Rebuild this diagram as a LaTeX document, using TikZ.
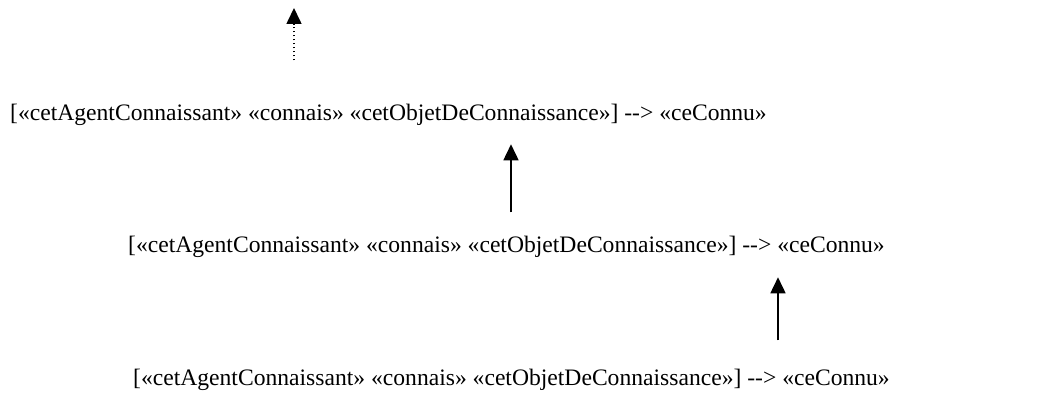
\documentclass[tikz,border=0pt]{standalone}
\usepackage{fontspec}
\setmainfont{Liberation Serif}
\usepackage{tikz}
\usetikzlibrary{arrows.meta}

% one rule of the chain
\newcommand{\regle}{[«cetAgentConnaissant» «connais» «cetObjetDeConnaissance»] -{}-> «ceConnu»}

\begin{document}
\begin{tikzpicture}[x=1pt,y=1pt]
        
        \useasboundingbox (0,0) rectangle (1061,414);
        
        \tikzset{
            ligne/.style={anchor=base west, inner sep=0pt, font=\fontsize{23.6}{28}\selectfont},
            fleche/.style={line width=1.6pt, -{Triangle[width=15pt,length=16pt]}},
            pointille/.style={fleche, dash pattern=on 1.6pt off 2.4pt}
        }
        
        \node[ligne] (l1) at (10,293) {\regle};
        \node[ligne] (l2) at (128,161) {\regle};
        \node[ligne] (l3) at (133,28) {\regle};
        
        \coordinate (haut) at (294,406);
        \coordinate (a2) at (511,0);
        \coordinate (a3) at (778,0);
        
        \draw[pointille, shorten <=44pt] (l1.north -| haut) -- (haut);
        \draw[fleche, shorten <=24pt, shorten >=18pt] (l2.north -| a2) -- (l1.south -| a2);
        \draw[fleche, shorten <=29pt, shorten >=19pt] (l3.north -| a3) -- (l2.south -| a3);
        
\end{tikzpicture}
\end{document}
